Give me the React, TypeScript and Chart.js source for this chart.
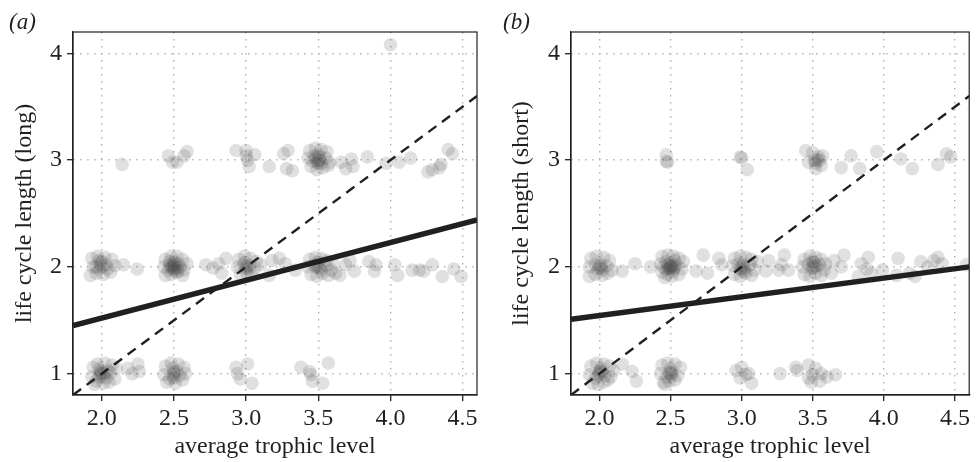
import { useEffect, useRef } from "react";
import { Chart, registerables } from "chart.js";
Chart.register(...registerables);

const xTicks = [2.0, 2.5, 3.0, 3.5, 4.0, 4.5];
const yTicks = [1, 2, 3, 4];
const xRange = [1.8, 4.6];
const yRange = [0.8, 4.2];
const xTitle = "average trophic level";
const yTitleA = "life cycle length (long)";
const yTitleB = "life cycle length (short)";

// fitted regression lines: y at x = 1.8 and x = 4.6
const fitA = [1.45, 2.44];
const fitB = [1.51, 2.0];
// 1:1 reference (dashed) line: y at x = 1.8 and x = 4.6
const refLine = [0.8, 3.6];

const pointsA: number[][] = [
  // row 3
  [2.14, 2.96],
  [2.46, 3.04], [2.59, 3.08], [2.49, 2.98], [2.52, 2.98], [2.57, 3.04],
  [2.93, 3.09], [3.0, 3.09], [3.06, 3.05], [3.01, 3.0], [3.02, 2.94], [3.0, 3.04],
  [3.16, 2.94],
  [3.26, 3.06], [3.29, 3.09], [3.28, 2.92], [3.32, 2.9],
  [3.44, 3.09], [3.48, 3.11], [3.52, 3.1], [3.56, 3.08], [3.43, 3.02], [3.47, 3.04], [3.51, 3.0],
  [3.55, 3.02], [3.58, 2.98], [3.45, 2.94], [3.49, 2.91], [3.53, 2.93], [3.57, 2.95], [3.5, 2.97], [3.46, 2.99],
  [3.5, 3.0], [3.51, 3.03], [3.49, 2.98], [3.52, 2.97], [3.5, 3.05], [3.48, 3.02],
  [3.66, 2.98], [3.73, 3.01], [3.69, 2.92], [3.74, 2.94],
  [3.84, 3.03],
  [3.97, 2.97], [4.06, 2.98], [4.14, 3.02],
  [4.26, 2.89], [4.29, 2.91], [4.35, 2.96], [4.34, 2.93], [4.4, 3.1], [4.43, 3.06],
  [4.0, 4.08],
  // row 2
  [1.93, 2.08], [1.97, 2.1], [2.02, 2.09], [2.07, 2.07], [1.94, 2.0], [1.99, 2.03], [2.04, 1.98],
  [2.09, 2.01], [1.92, 1.92], [1.96, 1.94], [2.01, 1.93], [2.06, 1.95], [1.98, 2.06],
  [2.0, 2.0], [1.98, 1.98], [2.03, 2.02], [2.0, 2.05], [1.96, 2.0],
  [2.15, 2.02], [2.245, 1.98],
  [2.44, 2.07], [2.48, 2.1], [2.52, 2.1], [2.56, 2.07], [2.59, 2.03], [2.43, 2.0], [2.47, 2.02],
  [2.5, 1.98], [2.53, 2.03], [2.57, 1.97], [2.44, 1.92], [2.48, 1.93], [2.52, 1.95], [2.56, 1.92],
  [2.5, 2.05], [2.46, 1.97], [2.54, 2.0], [2.49, 2.0],
  [2.5, 2.0], [2.49, 2.02], [2.52, 1.99], [2.48, 1.99], [2.51, 2.03], [2.5, 1.97], [2.47, 2.05], [2.53, 1.96],
  [2.72, 2.02], [2.77, 1.99], [2.83, 1.94], [2.86, 2.08], [2.81, 2.03],
  [2.95, 2.07], [2.99, 2.1], [3.03, 2.08], [3.07, 2.05], [2.94, 2.0], [2.98, 2.02], [3.02, 1.98],
  [3.06, 1.99], [2.96, 1.93], [3.0, 1.95], [3.04, 1.93], [3.1, 2.02],
  [3.0, 2.0], [2.99, 2.04], [3.02, 2.01], [3.0, 1.98],
  [3.16, 1.92], [3.18, 2.06], [3.23, 2.08], [3.27, 2.03], [3.34, 1.97],
  [3.44, 2.07], [3.48, 2.09], [3.52, 2.08], [3.56, 2.06], [3.6, 2.03], [3.43, 2.0], [3.47, 2.02],
  [3.51, 1.99], [3.55, 2.01], [3.59, 1.97], [3.45, 1.93], [3.49, 1.91], [3.53, 1.94], [3.57, 1.92],
  [3.5, 2.04], [3.62, 1.94], [3.5, 2.0], [3.52, 1.97], [3.48, 2.0],
  [3.69, 2.02], [3.75, 1.96], [3.65, 1.92], [3.72, 2.06],
  [3.85, 2.05], [3.89, 1.96], [3.9, 2.02],
  [4.03, 2.02], [4.05, 1.92],
  [4.15, 1.97], [4.2, 1.97], [4.23, 1.96], [4.29, 2.02],
  [4.36, 1.91], [4.44, 1.98], [4.49, 1.91],
  // row 1
  [1.94, 1.06], [1.97, 1.09], [2.02, 1.1], [2.07, 1.08], [2.1, 1.05], [1.93, 0.97], [1.96, 0.93],
  [1.99, 1.0], [2.03, 0.96], [2.06, 1.01], [2.09, 0.95], [1.95, 0.9], [2.01, 0.91], [2.05, 0.92],
  [1.98, 1.04], [2.04, 1.03], [2.0, 1.0], [2.01, 0.98], [1.99, 1.02], [2.02, 1.01], [1.98, 0.97],
  [2.18, 1.05], [2.25, 1.09], [2.21, 1.0], [2.26, 1.02],
  [2.44, 1.07], [2.48, 1.1], [2.53, 1.09], [2.57, 1.06], [2.43, 0.99], [2.47, 0.95], [2.5, 1.02],
  [2.54, 0.98], [2.58, 1.0], [2.45, 0.92], [2.51, 0.91], [2.56, 0.94], [2.49, 1.05],
  [2.5, 1.0], [2.49, 0.98], [2.52, 1.02], [2.5, 0.96],
  [2.94, 1.0], [2.96, 0.95], [3.01, 1.09], [3.04, 0.91], [2.93, 1.06],
  [3.38, 1.06], [3.44, 1.02], [3.45, 0.99], [3.46, 0.93], [3.53, 0.91], [3.57, 1.1],
];

const pointsB: number[][] = [
  // row 3
  [2.47, 3.05], [2.48, 2.98], [2.47, 2.99],
  [2.99, 3.03], [3.0, 3.02], [3.04, 2.91],
  [3.45, 3.09], [3.5, 3.07], [3.54, 3.03], [3.51, 3.0], [3.56, 2.95], [3.52, 2.92], [3.47, 2.98],
  [3.55, 3.0], [3.57, 3.04], [3.53, 3.0], [3.52, 2.97],
  [3.7, 2.93], [3.77, 3.04], [3.83, 2.92], [3.95, 3.08], [4.12, 3.01], [4.2, 2.92],
  [4.38, 2.96], [4.44, 3.06], [4.47, 3.03],
  // row 2
  [1.94, 2.08], [1.98, 2.1], [2.03, 2.09], [2.07, 2.06], [1.93, 2.0], [1.97, 2.02], [2.01, 1.99],
  [2.05, 2.01], [2.09, 1.97], [1.93, 1.91], [1.97, 1.93], [2.02, 1.92], [2.06, 1.94],
  [2.0, 2.0], [2.01, 2.02], [1.99, 1.98], [2.02, 1.97],
  [2.16, 1.96], [2.25, 2.03], [2.36, 2.0],
  [2.44, 2.1], [2.48, 2.11], [2.52, 2.1], [2.56, 2.08], [2.59, 2.05], [2.43, 2.03], [2.47, 2.05],
  [2.5, 2.0], [2.54, 2.02], [2.58, 1.98], [2.44, 1.95], [2.48, 1.93], [2.52, 1.96], [2.56, 1.93],
  [2.46, 1.9], [2.51, 1.91], [2.49, 1.98], [2.53, 2.06], [2.45, 2.0],
  [2.5, 2.0], [2.51, 2.01], [2.49, 1.99], [2.52, 1.98], [2.48, 2.02], [2.5, 2.03], [2.53, 2.0], [2.47, 1.98],
  [2.68, 1.96], [2.73, 2.11], [2.76, 1.94], [2.84, 2.08], [2.86, 2.02],
  [2.95, 2.08], [2.99, 2.1], [3.03, 2.09], [3.07, 2.07], [2.94, 2.01], [2.98, 2.03], [3.02, 1.99],
  [3.06, 2.02], [3.09, 1.97], [2.95, 1.93], [2.99, 1.91], [3.03, 1.94], [3.07, 1.92], [3.0, 1.97],
  [3.11, 2.05], [3.0, 2.0], [3.01, 2.02], [2.99, 1.98], [3.02, 1.96],
  [3.17, 1.96], [3.19, 2.06], [3.26, 1.97], [3.3, 2.11], [3.33, 1.97], [3.28, 2.02],
  [3.44, 2.07], [3.48, 2.1], [3.52, 2.09], [3.56, 2.07], [3.59, 2.03], [3.43, 2.0], [3.47, 2.03],
  [3.51, 1.99], [3.55, 2.02], [3.58, 1.97], [3.44, 1.93], [3.48, 1.91], [3.52, 1.94], [3.56, 1.92],
  [3.5, 2.05], [3.5, 2.0], [3.52, 2.01], [3.49, 1.98], [3.51, 2.04],
  [3.65, 2.06], [3.7, 2.0], [3.72, 2.11], [3.63, 1.94],
  [3.84, 2.03], [3.89, 2.09], [3.82, 1.91], [3.88, 1.98], [3.91, 1.94],
  [3.99, 1.97], [4.1, 2.08], [4.09, 1.92], [4.18, 1.94], [4.22, 1.91], [4.26, 2.05], [4.31, 2.0],
  [4.35, 2.06], [4.38, 2.09], [4.41, 2.03], [4.58, 2.02],
  // row 1
  [1.94, 1.07], [1.98, 1.1], [2.03, 1.09], [2.07, 1.07], [2.1, 1.03], [1.93, 0.99], [1.97, 0.96],
  [2.0, 1.02], [2.04, 0.98], [2.08, 0.97], [1.95, 0.91], [1.99, 0.9], [2.03, 0.92], [2.06, 0.94],
  [2.01, 1.05], [2.0, 1.0], [2.02, 1.01], [1.99, 0.98], [2.01, 1.03],
  [2.16, 1.09], [2.23, 1.02], [2.26, 0.93],
  [2.44, 1.08], [2.48, 1.1], [2.53, 1.09], [2.57, 1.06], [2.43, 1.0], [2.47, 0.97], [2.51, 1.01],
  [2.55, 0.98], [2.45, 0.92], [2.49, 0.93], [2.53, 0.94], [2.46, 0.9], [2.5, 1.04],
  [2.5, 1.0], [2.51, 0.98], [2.49, 1.01],
  [2.96, 1.03], [3.0, 1.06], [3.05, 1.0], [3.07, 0.91], [2.99, 0.96], [3.03, 0.99],
  [3.27, 1.0], [3.38, 1.06], [3.39, 1.03],
  [3.47, 1.08], [3.52, 1.05], [3.5, 0.99], [3.56, 1.0], [3.49, 0.92], [3.47, 0.96], [3.6, 0.97],
  [3.66, 0.99], [3.55, 0.93],
];

const FONT = '"Liberation Serif", "Times New Roman", serif';
const TEXT = "#231f20";

const boxPlugin = {
  id: "plotBox",
  afterDraw(chart: any) {
    const { ctx, chartArea } = chart;
    ctx.save();
    ctx.strokeStyle = "#231f20";
    ctx.lineWidth = 1.2;
    ctx.strokeRect(chartArea.left, chartArea.top, chartArea.right - chartArea.left, chartArea.bottom - chartArea.top);
    ctx.restore();
  },
};

type PanelProps = {
  points: number[][];
  fit: number[];
  yTitle: string;
  width: number;
  plotLeft: number;
  padRight: number;
  yTitlePad: number;
};

function Panel({ points, fit, yTitle, width, plotLeft, padRight, yTitlePad }: PanelProps) {
  const ref = useRef<HTMLCanvasElement | null>(null);
  useEffect(() => {
    if (!ref.current) return;
    const font = { family: FONT, size: 24 };
    const gridOpts: any = {
      color: "#b0b0b0",
      lineWidth: 1.4,
      tickColor: "#231f20",
      tickLength: 6,
      tickWidth: 1.3,
      tickBorderDash: [],
    };
    const borderOpts: any = { display: true, color: "#231f20", width: 1.2, dash: [1.4, 5.6] };
    const chart = new Chart(ref.current, {
      type: "scatter",
      data: {
        datasets: [
          {
            type: "line",
            data: [
              { x: xRange[0], y: fit[0] },
              { x: xRange[1], y: fit[1] },
            ],
            borderColor: "#231f20",
            borderWidth: 5.5,
            pointRadius: 0,
          } as any,
          {
            type: "line",
            data: [
              { x: xRange[0], y: refLine[0] },
              { x: xRange[1], y: refLine[1] },
            ],
            borderColor: "#231f20",
            borderWidth: 2.4,
            borderDash: [10, 7],
            pointRadius: 0,
          } as any,
          {
            data: points.map(([x, y]) => ({ x, y })),
            backgroundColor: "rgba(70,70,70,0.17)",
            borderWidth: 0,
            pointRadius: 6.8,
          },
        ],
      },
      options: {
        animation: false,
        responsive: false,
        maintainAspectRatio: false,
        layout: { padding: { top: 32, right: padRight, left: 0, bottom: 0 } },
        plugins: { legend: { display: false }, tooltip: { enabled: false } },
        scales: {
          x: {
            type: "linear",
            min: xRange[0],
            max: xRange[1],
            afterBuildTicks: (s: any) => {
              s.ticks = xTicks.map((v) => ({ value: v }));
            },
            afterFit: (s: any) => {
              s.height = 67;
            },
            ticks: {
              callback: (v: any) => Number(v).toFixed(1),
              font,
              color: TEXT,
              padding: 3,
              maxRotation: 0,
              autoSkip: false,
            },
            grid: gridOpts,
            border: borderOpts,
            title: { display: true, text: xTitle, font, color: TEXT, padding: { top: 0, bottom: 1 } },
          },
          y: {
            type: "linear",
            min: yRange[0],
            max: yRange[1],
            afterBuildTicks: (s: any) => {
              s.ticks = yTicks.map((v) => ({ value: v }));
            },
            afterFit: (s: any) => {
              s.width = plotLeft;
            },
            ticks: { font, color: TEXT, padding: 5 },
            grid: gridOpts,
            border: borderOpts,
            title: { display: true, text: yTitle, font, color: TEXT, padding: { top: yTitlePad, bottom: 0 } },
          },
        },
      },
      plugins: [boxPlugin],
    });
    return () => chart.destroy();
  }, []);
  return <canvas ref={ref} width={width} height={462} style={{ width, height: 462, display: "block" }} />;
}

export default function App() {
  const labelStyle = {
    position: "absolute" as const,
    top: 10,
    fontFamily: FONT,
    fontStyle: "italic",
    fontSize: 23,
    lineHeight: 1,
    color: TEXT,
  };
  return (
    <div style={{ position: "fixed", left: 0, top: 0, width: 976, height: 462, background: "#fff" }}>
      <div style={{ position: "absolute", left: 0, top: 0 }}>
        <Panel points={pointsA} fit={fitA} yTitle={yTitleA} width={490} plotLeft={73} padRight={13} yTitlePad={10} />
      </div>
      <div style={{ position: "absolute", left: 490, top: 0 }}>
        <Panel points={pointsB} fit={fitB} yTitle={yTitleB} width={486} plotLeft={81} padRight={2} yTitlePad={17} />
      </div>
      <div style={{ ...labelStyle, left: 9 }}>(a)</div>
      <div style={{ ...labelStyle, left: 503 }}>(b)</div>
    </div>
  );
}
